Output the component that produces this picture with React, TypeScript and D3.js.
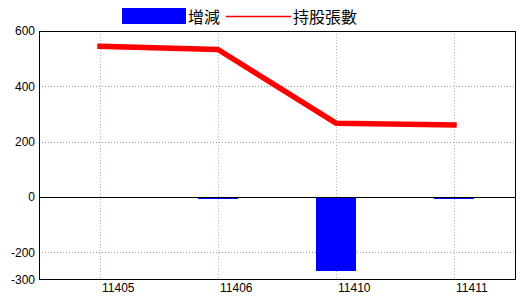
import React from "react";
import * as d3 from "d3";

const categories = ["11405", "11406", "11410", "11411"];
const changeValues = [0, -9, -266, -6];
const holdingValues = [545, 533, 267, 260];
const yTicks = [600, 400, 200, 0, -200, -300];
const legendLabels = ["增減", "持股張數"];

export default function App() {
  const W = 520, H = 300;
  const left = 39, right = 516, top = 31, bottom = 280;
  const y = d3.scaleLinear().domain([-300, 600]).range([bottom, top]);
  const x = d3.scaleBand<string>().domain(categories).range([41, 513]).padding(0);
  const cx = (c: string) => (x(c) as number) + x.bandwidth() / 2;
  const barW = 40;
  const line = d3
    .line<number>()
    .x((_, i) => cx(categories[i]))
    .y((d) => y(d));
  const labelFont = "'Liberation Sans', Arial, sans-serif";
  const cjkFont = "'Noto Sans CJK TC', 'Noto Sans CJK SC', sans-serif";
  return (
    <svg
      width={W}
      height={H}
      style={{ position: "absolute", left: 0, top: 0, background: "#fff" }}
    >
      <rect x={0} y={0} width={W} height={H} fill="#fff" />
      {yTicks
        .filter((t) => t !== 0 && t !== 600 && t !== -300)
        .map((t) => (
          <line
            key={"hg" + t}
            x1={left}
            x2={right}
            y1={Math.round(y(t)) + 0.5}
            y2={Math.round(y(t)) + 0.5}
            stroke="#999"
            strokeDasharray="1,2"
            shapeRendering="crispEdges"
          />
        ))}
      {categories.map((c) => (
        <line
          key={"vg" + c}
          x1={Math.round(cx(c)) + 0.5}
          x2={Math.round(cx(c)) + 0.5}
          y1={top}
          y2={bottom}
          stroke="#9fbccc"
          strokeDasharray="1,2"
          shapeRendering="crispEdges"
        />
      ))}
      {categories.map((c, i) => {
        const v = changeValues[i];
        if (v === 0) return null;
        const y0 = y(0), y1 = y(v);
        return (
          <rect
            key={"b" + c}
            x={cx(c) - barW / 2}
            y={Math.min(y0, y1)}
            width={barW}
            height={Math.abs(y1 - y0)}
            fill="#0000ff"
            shapeRendering="crispEdges"
          />
        );
      })}
      <line
        x1={left}
        x2={right}
        y1={Math.round(y(0)) + 0.5}
        y2={Math.round(y(0)) + 0.5}
        stroke="#000"
        shapeRendering="crispEdges"
      />
      <path
        d={line(holdingValues) || ""}
        fill="none"
        stroke="#ff0000"
        strokeWidth={5.5}
        strokeLinecap="square"
        strokeLinejoin="round"
      />
      <rect
        x={left + 0.5}
        y={top + 0.5}
        width={right - left - 1}
        height={bottom - top - 1}
        fill="none"
        stroke="#000"
        strokeWidth={1.2}
        shapeRendering="crispEdges"
      />
      {yTicks.map((t) => (
        <text
          key={"yl" + t}
          x={35}
          y={y(t)}
          dy="0.35em"
          textAnchor="end"
          fontFamily={labelFont}
          fontSize={12}
          fill="#000"
        >
          {t}
        </text>
      ))}
      {categories.map((c) => (
        <text
          key={"xl" + c}
          x={cx(c) + 2}
          y={292}
          textAnchor="start"
          fontFamily={labelFont}
          fontSize={12}
          fill="#000"
        >
          {c}
        </text>
      ))}
      <rect x={122} y={8} width={64} height={16} fill="#0000ff" />
      <text x={188} y={22.5} fontFamily={cjkFont} fontSize={16} fill="#000">
        {legendLabels[0]}
      </text>
      <line x1={226} x2={291} y1={16.5} y2={16.5} stroke="#ff0000" strokeWidth={1.5} />
      <text x={293} y={22.5} fontFamily={cjkFont} fontSize={16} fill="#000">
        {legendLabels[1]}
      </text>
    </svg>
  );
}
